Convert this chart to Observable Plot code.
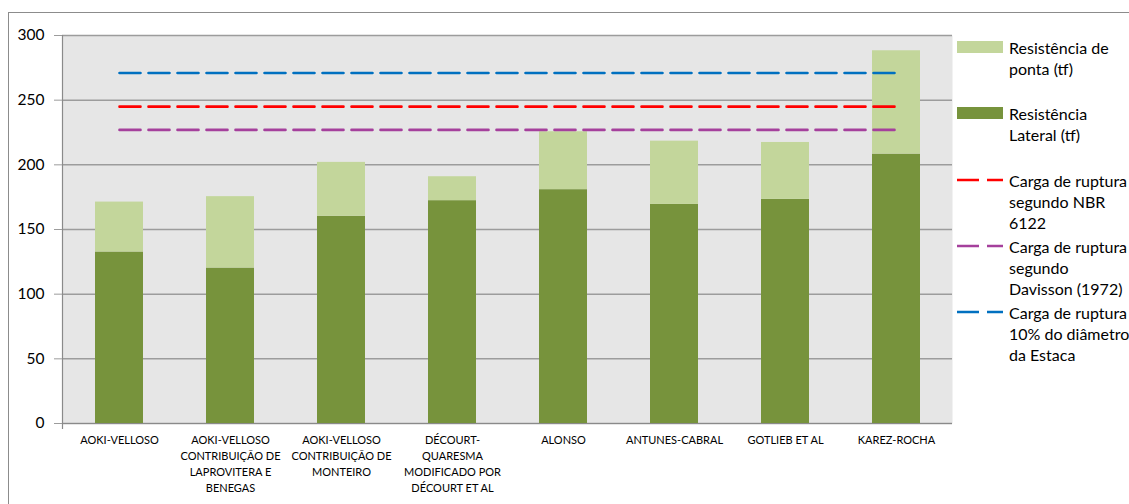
<!DOCTYPE html>
<html>
<head>
<meta charset="utf-8">
<script src="https://cdn.jsdelivr.net/npm/d3@7"></script>
<script src="https://cdn.jsdelivr.net/npm/@observablehq/plot@0.6"></script>
<style>
  body { margin: 0; background: #fff; font-family: Lato, "Open Sans", sans-serif; }
  #wrap { position: relative; width: 1129px; height: 504px; overflow: hidden; }
  #border { position: absolute; left: 8px; top: 12px; width: 1200px; height: 600px;
            border-left: 1px solid #8c8c8c; border-top: 1px solid #8c8c8c; }
  #chart { position: absolute; left: 0; top: 0; }
  .item { position: absolute; left: 957px; display: flex; align-items: flex-start; }
  .item .sw { width: 46px; height: 21px; display: flex; align-items: center; flex: none; }
  .item .tx { margin-left: 6px; font-size: 16px; line-height: 21px; color: #000; white-space: pre; }
</style>
</head>
<body>
<div id="wrap">
  <div id="border"></div>
  <div id="chart"></div>
  <div id="legend"></div>
</div>
<script>
// Pile capacity estimates by method (tf)
const categories = [
  "AOKI-VELLOSO",
  "AOKI-VELLOSO CONTRIBUIÇÃO DE LAPROVITERA E BENEGAS",
  "AOKI-VELLOSO CONTRIBUIÇÃO DE MONTEIRO",
  "DÉCOURT-QUARESMA MODIFICADO POR DÉCOURT ET AL",
  "ALONSO",
  "ANTUNES-CABRAL",
  "GOTLIEB ET AL",
  "KAREZ-ROCHA"
];
const tickLabels = [
  "AOKI-VELLOSO",
  "AOKI-VELLOSO\nCONTRIBUIÇÃO DE\nLAPROVITERA E\nBENEGAS",
  "AOKI-VELLOSO\nCONTRIBUIÇÃO DE\nMONTEIRO",
  "DÉCOURT-\nQUARESMA\nMODIFICADO POR\nDÉCOURT ET AL",
  "ALONSO",
  "ANTUNES-CABRAL",
  "GOTLIEB ET AL",
  "KAREZ-ROCHA"
];
// Side (lateral) resistance and tip (ponta) resistance
const lateral = [132.6, 120.2, 160.2, 172.3, 180.8, 169.4, 173.3, 208.3];
const ponta   = [38.6, 55.2, 41.7, 18.5, 44.8, 48.9, 44.0, 79.9];
const yTicks = [0, 50, 100, 150, 200, 250, 300];

// Failure loads from load tests / criteria
const rupturaNames  = ["Carga de ruptura segundo NBR 6122",
                       "Carga de ruptura segundo Davisson (1972)",
                       "Carga de ruptura 10% do diâmetro da Estaca"];
const rupturaValues = [245, 227, 271];

const partNames = ["Resistência Lateral (tf)", "Resistência de ponta (tf)"];
const partColors = ["#77933c", "#c3d69b"];
const lineColors = ["#ff0000", "#a5409c", "#0070c0"];

const stacked = categories.flatMap((c, i) => [
  {cat: c, part: partNames[0], value: lateral[i]},
  {cat: c, part: partNames[1], value: ponta[i]}
]);

const W = 1129, H = 504, ML = 62, MR = 177, MT = 35, MB = 81;

const lineMarks = rupturaValues.map((v, k) =>
  Plot.lineY(categories, {
    x: d => d, y: () => v,
    stroke: lineColors[k], strokeWidth: 2.6, strokeDasharray: "21,8"
  })
);

const chart = Plot.plot({
  width: W, height: H,
  marginTop: MT, marginBottom: MB, marginLeft: ML, marginRight: MR,
  style: {fontFamily: "Lato, 'Open Sans', sans-serif", background: "transparent", color: "#000"},
  x: {domain: categories, paddingInner: 0.57, paddingOuter: 0.285, label: null},
  y: {domain: [0, 300], label: null},
  color: {domain: partNames, range: partColors},
  marks: [
    Plot.frame({fill: "#e6e6e6", stroke: null}),
    Plot.ruleY(yTicks, {stroke: "#9c9c9c", strokeWidth: 1.5}),
    Plot.barY(stacked, {x: "cat", y: "value", fill: "part", order: partNames}),
    ...lineMarks,
    Plot.frame({anchor: "left", stroke: "#8a8a8a", strokeWidth: 1.2, insetBottom: -5}),
    Plot.ruleY([0], {stroke: "#8a8a8a", strokeWidth: 1.2}),
    Plot.axisY({ticks: yTicks, tickSize: 8, tickPadding: 10, fontSize: 15.5, stroke: "#9c9c9c", fill: "#000"}),
    Plot.axisX({tickSize: 0, tickPadding: 9, fontSize: 11, lineHeight: 1.45, fill: "#000",
                tickFormat: d => tickLabels[categories.indexOf(d)]})
  ]
});
document.getElementById("chart").appendChild(chart);

// Legend, to the right of the plot area
const legendItems = [
  {text: "Resistência de\nponta (tf)", kind: "rect", color: partColors[1], top: 36.5},
  {text: "Resistência\nLateral (tf)", kind: "rect", color: partColors[0], top: 102.5},
  {text: "Carga de ruptura\nsegundo NBR\n6122", kind: "line", color: lineColors[0], top: 169.5},
  {text: "Carga de ruptura\nsegundo\nDavisson (1972)", kind: "line", color: lineColors[1], top: 235.5},
  {text: "Carga de ruptura\n10% do diâmetro\nda Estaca", kind: "line", color: lineColors[2], top: 301.5}
];
const legend = document.getElementById("legend");
for (const it of legendItems) {
  const div = document.createElement("div");
  div.className = "item";
  div.style.top = it.top + "px";
  const sw = document.createElement("div");
  sw.className = "sw";
  if (it.kind === "rect") {
    sw.innerHTML = `<div style="width:46px;height:12px;background:${it.color}"></div>`;
  } else {
    sw.innerHTML = `<svg width="46" height="4"><line x1="0" x2="46" y1="2" y2="2" stroke="${it.color}" stroke-width="2.6" stroke-dasharray="22,8"/></svg>`;
  }
  const tx = document.createElement("div");
  tx.className = "tx";
  tx.textContent = it.text;
  div.appendChild(sw);
  div.appendChild(tx);
  legend.appendChild(div);
}
</script>
</body>
</html>
